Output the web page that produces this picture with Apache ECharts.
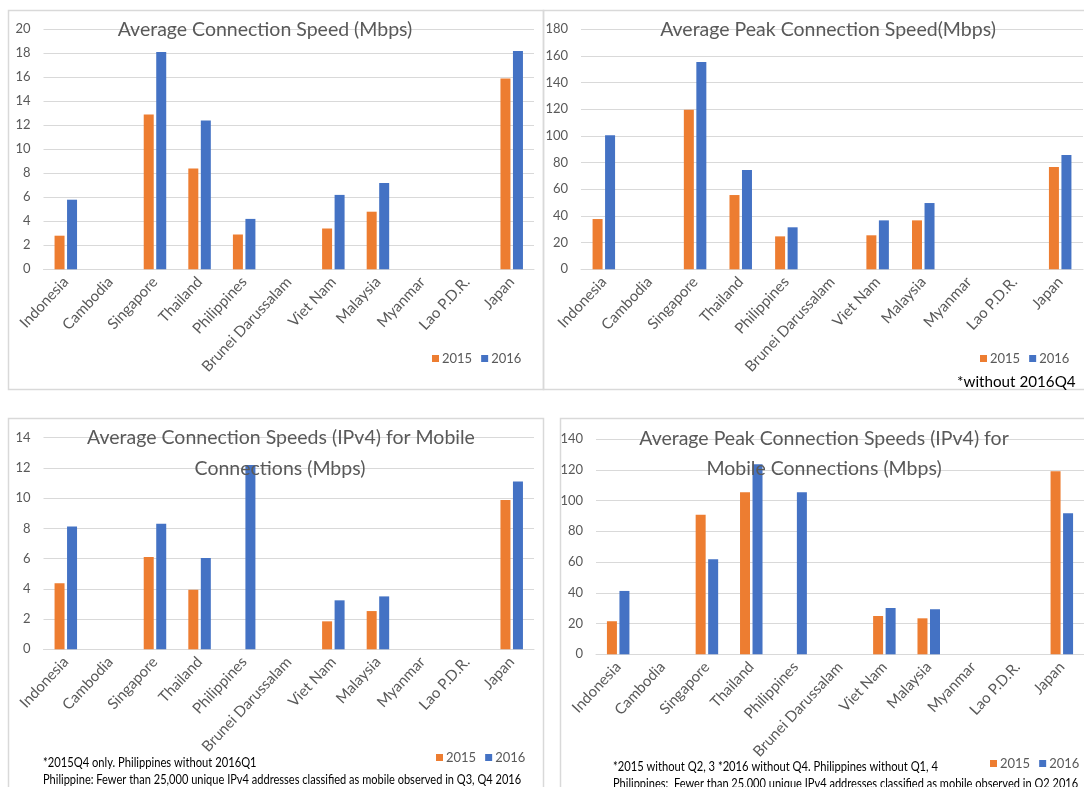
<!DOCTYPE html>
<html>
<head>
<meta charset="utf-8">
<script src="https://cdn.jsdelivr.net/npm/echarts@6/dist/echarts.min.js"></script>
<style>
  html, body { margin: 0; padding: 0; background: #ffffff; }
  #chart { width: 1084px; height: 787px; }
</style>
</head>
<body>
<div id="chart"></div>
<script>
// Countries shown on every panel's category axis
const countries = ['Indonesia', 'Cambodia', 'Singapore', 'Thailand', 'Philippines',
  'Brunei Darussalam', 'Viet Nam', 'Malaysia', 'Myanmar', 'Lao P.D.R.', 'Japan'];
const years = ['2015', '2016'];

// Average Connection Speed (Mbps)
const avgSpeed2015 = [2.8, null, 12.9, 8.4, 2.9, null, 3.4, 4.8, null, null, 15.9];
const avgSpeed2016 = [5.8, null, 18.1, 12.4, 4.2, null, 6.2, 7.2, null, null, 18.2];

// Average Peak Connection Speed (Mbps)
const peakSpeed2015 = [37.7, null, 119.7, 55.7, 24.7, null, 25.5, 36.7, null, null, 76.7];
const peakSpeed2016 = [100.5, null, 155.5, 74.5, 31.5, null, 36.7, 49.7, null, null, 85.7];

// Average Connection Speeds (IPv4) for Mobile Connections (Mbps)
const mobileAvg2015 = [4.37, null, 6.1, 3.94, null, null, 1.85, 2.53, null, null, 9.87];
const mobileAvg2016 = [8.13, null, 8.3, 6.04, 12.2, null, 3.24, 3.5, null, null, 11.1];

// Average Peak Connection Speeds (IPv4) for Mobile Connections (Mbps)
const mobilePeak2015 = [21.5, null, 90.8, 105.3, null, null, 24.9, 23.4, null, null, 119];
const mobilePeak2016 = [41.2, null, 61.8, 123.5, 105.3, null, 30.1, 29.3, null, null, 91.7];

// Value axis ranges per panel
const axisMax = [20, 180, 14, 140];
const axisStep = [2, 20, 2, 20];

const ORANGE = '#ED7D31';
const BLUE = '#4472C4';
const GREY_TEXT = '#595959';
const GRID_LINE = '#d9d9d9';
const FONT = 'Lato, "Open Sans", sans-serif';

const chart = echarts.init(document.getElementById('chart'), null, { renderer: 'canvas' });

const grids = [
  { left: 43.5, top: 29.3, width: 490.5, height: 240 },
  { left: 581, top: 29.3, width: 502, height: 240 },
  { left: 43.5, top: 437.7, width: 490.5, height: 211.6 },
  { left: 596, top: 439, width: 496, height: 215.3 }
];

const xAxes = grids.map((g, i) => ({
  type: 'category',
  gridIndex: i,
  data: countries,
  axisLine: { lineStyle: { color: GRID_LINE, width: 1 } },
  axisTick: { show: false },
  axisLabel: {
    interval: 0,
    rotate: 47,
    margin: 10,
    color: GREY_TEXT,
    fontFamily: FONT,
    fontSize: 15
  },
  splitLine: { show: false }
}));

const yAxes = grids.map((g, i) => ({
  type: 'value',
  gridIndex: i,
  min: 0,
  max: axisMax[i],
  interval: axisStep[i],
  axisLine: { show: false },
  axisTick: { show: false },
  axisLabel: {
    margin: 13,
    color: GREY_TEXT,
    fontFamily: FONT,
    fontSize: 13
  },
  splitLine: { lineStyle: { color: GRID_LINE, width: 1 } }
}));

const panelData = [
  [avgSpeed2015, avgSpeed2016],
  [peakSpeed2015, peakSpeed2016],
  [mobileAvg2015, mobileAvg2016],
  [mobilePeak2015, mobilePeak2016]
];

const series = [];
panelData.forEach((pair, i) => {
  pair.forEach((values, k) => {
    series.push({
      name: years[k],
      type: 'bar',
      xAxisIndex: i,
      yAxisIndex: i,
      data: values,
      barWidth: 10,
      barGap: '25%',
      itemStyle: { color: k === 0 ? ORANGE : BLUE },
      emphasis: { disabled: true },
      animation: false
    });
  });
});

const legendBase = {
  data: years,
  orient: 'horizontal',
  itemWidth: 7,
  itemHeight: 7,
  itemGap: 9,
  icon: 'rect',
  padding: 0,
  selectedMode: false,
  textStyle: { color: GREY_TEXT, fontFamily: FONT, fontSize: 13, padding: [0, 0, 0, -2] }
};
const legends = [
  Object.assign({}, legendBase, { left: 432, top: 352 }),
  Object.assign({}, legendBase, { left: 980, top: 352 }),
  Object.assign({}, legendBase, { left: 436, top: 751 }),
  Object.assign({}, legendBase, { left: 990, top: 757 })
];

function titleText(x, y, text) {
  return {
    type: 'text', x: x, y: y, z: 100,
    style: {
      text: text, fill: GREY_TEXT, font: '19.5px ' + FONT,
      align: 'center', verticalAlign: 'middle'
    },
    silent: true
  };
}

function noteText(x, y, text, size, color, sx) {
  return {
    type: 'text', x: x, y: y, z: 100, scaleX: sx,
    style: {
      text: text, fill: color, font: size + 'px ' + FONT,
      align: 'left', verticalAlign: 'middle'
    },
    silent: true
  };
}

function frame(x, y, w, h) {
  return {
    type: 'rect', z: -10, silent: true,
    shape: { x: x, y: y, width: w, height: h },
    style: { fill: 'none', stroke: GRID_LINE, lineWidth: 1.5 }
  };
}

const graphics = [
  frame(8.5, 10.5, 535, 379),
  frame(543.5, 10.5, 560, 379),
  frame(8.5, 418.5, 535, 400),
  frame(560.5, 418.5, 540, 400),

  titleText(265, 30, 'Average Connection Speed (Mbps)'),
  titleText(828, 30, 'Average Peak Connection Speed(Mbps)'),
  titleText(281, 438, 'Average Connection Speeds (IPv4) for Mobile'),
  titleText(280, 469, 'Connections (Mbps)'),
  titleText(824, 439, 'Average Peak Connection Speeds (IPv4) for'),
  titleText(824, 469, 'Mobile Connections (Mbps)'),

  noteText(957, 382, '*without 2016Q4', 16, '#000000', 0.95),
  noteText(43, 763, '*2015Q4 only. Philippines without 2016Q1', 13, '#000000', 0.86),
  noteText(43, 780, 'Philippine: Fewer than 25,000 unique IPv4 addresses classified as mobile observed in Q3, Q4 2016', 13, '#000000', 0.85),
  noteText(613, 767, '*2015 without Q2, 3 *2016 without Q4. Philippines without Q1, 4', 13, '#000000', 0.86),
  noteText(613, 784, 'Philippines:  Fewer than 25,000 unique IPv4 addresses classified as mobile observed in Q2 2016', 13, '#000000', 0.85)
];

chart.setOption({
  backgroundColor: '#ffffff',
  animation: false,
  grid: grids.map(g => Object.assign({ containLabel: false }, g)),
  xAxis: xAxes,
  yAxis: yAxes,
  legend: legends,
  series: series,
  graphic: graphics
});
</script>
</body>
</html>
